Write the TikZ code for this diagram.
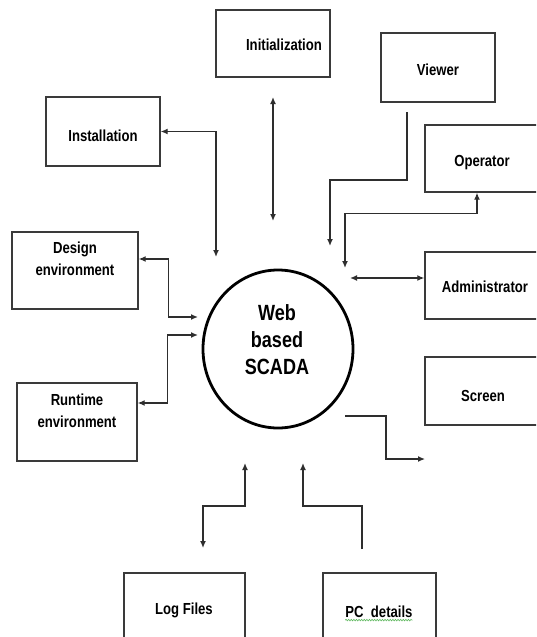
\documentclass[tikz,border=0pt]{standalone}
\usepackage{fontspec}
\setmainfont{Liberation Sans}[FakeStretch=0.82]
\usetikzlibrary{arrows.meta,shapes.geometric,decorations.pathmorphing}
\definecolor{boxgray}{HTML}{3A3A3A}
\definecolor{linegray}{HTML}{2E2E2E}
\definecolor{spellgreen}{HTML}{5DB85D}
\begin{document}
\begin{tikzpicture}[x=1pt,y=-1pt,
  >={Latex[length=7pt,width=6pt]},
  box/.style={draw=boxgray, line width=1.4pt, inner sep=0pt},
  lbl/.style={font=\bfseries\fontsize{16}{22}\selectfont, align=center, inner sep=0pt},
  link/.style={draw=linegray, line width=1.3pt},
  hub/.style={ellipse, draw=black, line width=2.8pt, minimum width=150pt, minimum height=158pt, inner sep=0pt},
  hublbl/.style={font=\bfseries\fontsize{22}{27}\selectfont, align=center, inner sep=0pt}]
\useasboundingbox (0,0) rectangle (536,637);
\clip (0,0) rectangle (536,637);
\fill[white] (0,0) rectangle (536,637);

% boxes
\node[box, minimum width=114pt, minimum height=67pt] (init) at (273,43.5) {};
\node[box, minimum width=114pt, minimum height=69pt] (viewer) at (438,67.5) {};
\node[box, minimum width=114pt, minimum height=69pt] (install) at (103,131.5) {};
\node[box, minimum width=120pt, minimum height=67pt] (operator) at (485,158.5) {};
\node[box, minimum width=126pt, minimum height=77pt] (design) at (75,270.5) {};
\node[box, minimum width=120pt, minimum height=67pt] (admin) at (485,285.5) {};
\node[box, minimum width=120pt, minimum height=68pt] (screen) at (485,391) {};
\node[box, minimum width=120pt, minimum height=78pt] (runtime) at (77,422) {};
\node[box, minimum width=121pt, minimum height=72pt] (logs) at (184.5,609) {};
\node[box, minimum width=113pt, minimum height=72pt] (pc) at (379.5,609) {};

% labels
\node[lbl] (initlbl) at (284,45) {Initialization};
\node[lbl] (viewerlbl) at (438,70) {Viewer};
\node[lbl] (installlbl) at (103,136) {Installation};
\node[lbl] (operatorlbl) at (482,163) {Operator};
\node[lbl] (designlbl) at (75,259) {Design\\environment};
\node[lbl] (adminlbl) at (485,287) {Administrator};
\node[lbl] (screenlbl) at (483,396) {Screen};
\node[lbl] (runtimelbl) at (77,411) {Runtime\\environment};
\node[lbl] (logslbl) at (184,610) {Log Files};
\node[lbl] (pclbl) at (379,612) {PC\ \ details};
\draw[spellgreen, line width=0.6pt, decorate,
  decoration={snake, amplitude=0.8pt, segment length=2.6pt}]
  ([yshift=-2pt]pclbl.south west) -- ([yshift=-2pt]pclbl.south east);

% central process
\node[hub] (scada) at (278,349) {};
\node[hublbl] (scadalbl) at (277,340) {Web\\based\\SCADA};

% free ends of the connectors
\coordinate (initA) at (273,97);
\coordinate (initB) at (273,221);
\coordinate (instC) at (216,257);
\coordinate (viewS) at (407,112);
\coordinate (viewC) at (330,246);
\coordinate (opC) at (345,268);
\coordinate (admC) at (350,278);
\coordinate (desC) at (198,317);
\coordinate (runC) at (198,335);
\coordinate (scrS) at (345,416);
\coordinate (scrE) at (425,459);
\coordinate (logU) at (245,463);
\coordinate (logD) at (203,548);
\coordinate (pcS) at (362,549);
\coordinate (pcU) at (303,463);

% connectors
\draw[link,<->] (initA) -- (initB);
\draw[link,<->] (install.east) -| (instC);
\draw[link,->] (viewS) -- ++(0,68) -| (viewC);
\draw[link,<->] ([xshift=-8pt]operator.south) -- ++(0,21) -| (opC);
\draw[link,<->] (admC) -- (admC -| admin.west);
\draw[link,<->] ([yshift=11.5pt]design.east) -| ++(30,58) -- (desC);
\draw[link,<->] ([yshift=19pt]runtime.east) -| ++(30,-68) -- (runC);
\draw[link,->] (scrS) -- ++(41,0) |- (scrE);
\draw[link,<->] (logU) -- ++(0,43) -| (logD);
\draw[link,->] (pcS) -- ++(0,-43) -| (pcU);
\end{tikzpicture}
\end{document}
